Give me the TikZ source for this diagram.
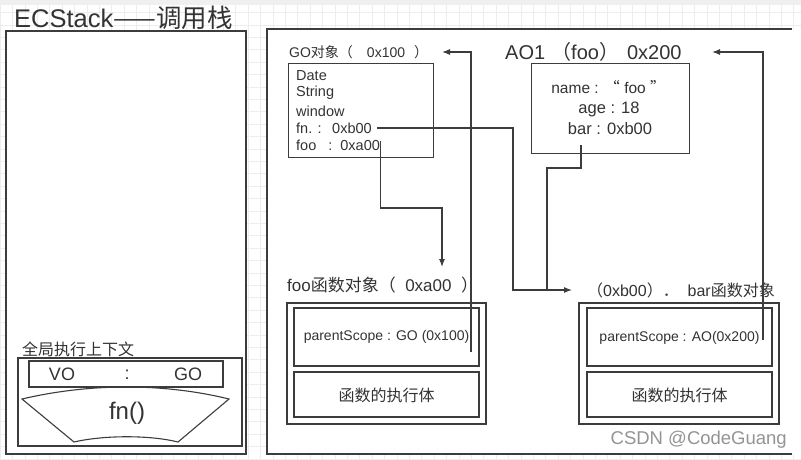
\documentclass[tikz,border=0pt]{standalone}
\usepackage{fontspec}
\setmainfont{Liberation Sans}
\newfontfamily\cjk{Noto Sans CJK SC}
\usetikzlibrary{arrows.meta}
\definecolor{ink}{HTML}{333333}
\definecolor{linec}{HTML}{3C3C3C}
\definecolor{gridc}{HTML}{EDEDED}
\begin{document}
\begin{tikzpicture}[x=1pt,y=-1pt,
  frame/.style={draw=linec, line width=1.5pt, fill=white, inner sep=0pt},
  box/.style={draw=linec, line width=1.1pt, inner sep=0pt},
  lbl/.style={inner sep=0pt, text=ink},
  fs/.style={font=\fontsize{#1}{#1}\selectfont},
  conn/.style={draw=linec, line width=1.1pt},
  arr/.style={conn, -{Latex[length=8pt,width=6pt]}},
]
\useasboundingbox (0,0) rectangle (801,459);
\fill[white] (0,0) rectangle (801,459);
\foreach \i in {0,...,64} \draw[gridc, line width=0.6pt] (\i*12.4,0) -- (\i*12.4,459);
\foreach \j in {0,...,37} \draw[gridc, line width=0.6pt] (0,\j*12.4) -- (801,\j*12.4);
\fill[black!6] (0,0) rectangle (801,5);

% title
\node[lbl, fs=25.5, anchor=base west] (title) at (14,27) {ECStack{\cjk ——调用栈}};

% left stack frame
\node[frame, minimum width=240, minimum height=423, anchor=north west] (stack) at (5,30) {};

% right frame (open on the right)
\fill[white] (267,29) rectangle (801,454);
\draw[linec, line width=1.5pt] (792,29) -- (267,29) -- (267,454) -- (792,454);

% GO object
\node[lbl, fs=14, anchor=west] (golbl) at (289,52) {GO{\cjk 对象（}\hspace{14pt}0x100\hspace{9pt}{\cjk ）}};
\node[box, minimum width=145, minimum height=94, anchor=north west] (gobox) at (288,63) {};
\node[lbl, fs=14.5, anchor=west] (date) at (296,76) {Date};
\node[lbl, fs=14.5, anchor=west] (string) at (296,93) {String};
\node[lbl, fs=14.5, anchor=west] (window) at (296,111) {window};
\node[lbl, fs=14.5, anchor=west] (fnv) at (296,128) {fn. :\hspace{10.5pt}0xb00};
\node[lbl, fs=14.5, anchor=west] (foov) at (296,145) {foo\hspace{12pt}:\hspace{8pt}0xa00};

% AO object
\node[lbl, fs=20, anchor=west] (aolbl) at (505,52) {AO1\hspace{6pt}{\cjk （}foo{\cjk ）}\hspace{8pt}0x200};
\node[box, minimum width=158, minimum height=90, anchor=north west] (aobox) at (531,63) {};
\node[lbl, fs=15.5] (aname) at (608.5,87) {name : {\cjk “} foo {\cjk ”}};
\node[lbl, fs=16.5] (aage) at (609,109) {age : 18};
\node[lbl, fs=16.5] (abar) at (610,129) {bar : 0xb00};

% foo function object
\node[lbl, fs=17, anchor=west] (foolbl) at (287,285) {foo{\cjk 函数对象（}\ \ 0xa00\ \ {\cjk ）}};
\node[box, minimum width=199, minimum height=121] (fooout) at (386.5,363.5) {};
\node[box, minimum width=185, minimum height=58] (foops) at (386.5,337) {};
\node[box, minimum width=185, minimum height=45] (foobody) at (386.5,394.5) {};
\node[lbl, fs=14] (foopst) at (386.5,337) {parentScope : GO (0x100)};
\node[lbl, fs=16] (foobt) at (386.5,395) {\cjk 函数的执行体};

% bar function object
\node[lbl, fs=16, anchor=west] (barlbl) at (587,290) {{\cjk （}0xb00{\cjk ）．}\ \ bar{\cjk 函数对象}};
\node[box, minimum width=200, minimum height=121] (barout) at (679,363.5) {};
\node[box, minimum width=185, minimum height=58] (barps) at (679.5,337) {};
\node[box, minimum width=185, minimum height=45] (barbody) at (679.5,394.5) {};
\node[lbl, fs=14] (barpst) at (679.5,338) {parentScope : AO(0x200)};
\node[lbl, fs=16] (barbt) at (679.5,395) {\cjk 函数的执行体};

% global execution context
\node[lbl, fs=16, anchor=west] (glbl) at (22,349) {\cjk 全局执行上下文};
\node[box, minimum width=224, minimum height=88] (gbox) at (130,402) {};
\node[box, minimum width=194, minimum height=26] (vobox) at (126,374) {};
\node[lbl, fs=18] (vo) at (62,374) {VO};
\node[lbl, fs=18] (colon) at (127,375) {:};
\node[lbl, fs=18] (go) at (188,374) {GO};
\draw[linec, line width=1.1pt] (22,399) .. controls (90,383) and (164,383) .. (229,399)
   -- (178,442) .. controls (150,435) and (104,435) .. (74,442) -- cycle;
\node[lbl, fs=24] (fn) at (127,413) {fn()};

% watermark
\node[inner sep=0pt, text=black!42, fs=18.5, anchor=east] (wm) at (787,440) {CSDN @CodeGuang};

% connector points
\coordinate (bartip) at (572,290);
\coordinate (j1) at (513,290);
\coordinate (j2) at (442,208);
\coordinate (footip) at (442,267);
\coordinate (gotip) at (442,52);
\coordinate (aotip) at (712,52);
\coordinate (gpsend) at (471,352);
\coordinate (apsend) at (763,340);
\coordinate (barout0) at (581,145);
\coordinate (j3) at (547,168);
\coordinate (j4) at (547,290);

% connectors
\draw[arr] ([xshift=5pt]fnv.east) -| (j1) -- (bartip);
\draw[arr] ([xshift=0.5pt,yshift=-2pt]foov.north east) |- (j2) -- (footip);
\draw[arr] (gpsend) |- (gotip);
\draw[arr] (apsend) |- (aotip);
\draw[conn] (barout0) |- (j3) -- (j4);
\end{tikzpicture}
\end{document}
